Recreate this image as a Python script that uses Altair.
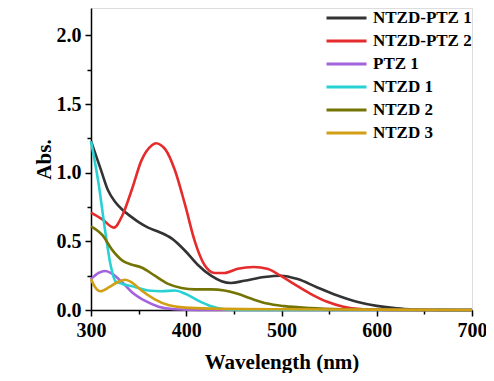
import altair as alt
import pandas as pd

series_names = ["NTZD-PTZ 1", "NTZD-PTZ 2", "PTZ 1", "NTZD 1", "NTZD 2", "NTZD 3"]
series_colors = ["#333333", "#e52b2b", "#a363dc", "#28d2d4", "#747405", "#d19e14"]

wl_ntzd_ptz1 = [300, 310, 318, 325, 333, 342, 350, 360, 371, 385, 399, 412, 426, 437, 447, 461, 482, 499, 517, 537, 558, 579, 600, 621, 635, 669, 700]
ab_ntzd_ptz1 = [1.23, 1.03, 0.87, 0.79, 0.73, 0.68, 0.64, 0.60, 0.57, 0.52, 0.43, 0.33, 0.25, 0.21, 0.197, 0.213, 0.24, 0.25, 0.225, 0.166, 0.107, 0.06, 0.03, 0.012, 0.005, 0.001, 0.0]

wl_ntzd_ptz2 = [300, 312, 324, 333, 343, 353, 364, 368, 378, 388, 399, 409, 419, 430, 440, 454, 471, 485, 499, 513, 530, 548, 565, 583, 600, 620, 700]
ab_ntzd_ptz2 = [0.71, 0.66, 0.60, 0.69, 0.88, 1.09, 1.20, 1.215, 1.17, 1.02, 0.76, 0.50, 0.33, 0.27, 0.27, 0.30, 0.313, 0.30, 0.25, 0.19, 0.12, 0.06, 0.024, 0.007, 0.003, 0.0, 0.0]

wl_ptz1 = [300, 308, 315, 322, 333, 343, 357, 371, 385, 400, 420, 700]
ab_ptz1 = [0.225, 0.27, 0.284, 0.265, 0.20, 0.13, 0.066, 0.024, 0.007, 0.002, 0.0, 0.0]

wl_ntzd1 = [300, 308, 315, 320.5, 325.7, 333, 347, 360, 374, 388, 399, 412, 426, 440, 450, 700]
ab_ntzd1 = [1.23, 0.92, 0.57, 0.33, 0.21, 0.19, 0.166, 0.142, 0.137, 0.142, 0.118, 0.07, 0.028, 0.005, 0.0, 0.0]

wl_ntzd2 = [300, 312, 322, 333, 343, 353, 367, 381, 395, 409, 426, 440, 454, 468, 485, 503, 530, 565, 600, 650, 700]
ab_ntzd2 = [0.61, 0.545, 0.44, 0.36, 0.33, 0.31, 0.25, 0.19, 0.16, 0.15, 0.15, 0.142, 0.118, 0.083, 0.047, 0.028, 0.014, 0.005, 0.002, 0.0, 0.0]

wl_ntzd3 = [300, 304, 310, 319, 327, 336, 343, 353, 367, 381, 399, 426, 500, 600, 700]
ab_ntzd3 = [0.225, 0.17, 0.137, 0.166, 0.20, 0.22, 0.20, 0.142, 0.078, 0.036, 0.017, 0.01, 0.005, 0.003, 0.0]

x_major = [300, 400, 500, 600, 700]
x_minor = [350, 450, 550, 650]
y_major = [0.0, 0.5, 1.0, 1.5, 2.0]
y_minor = [0.25, 0.75, 1.25, 1.75]

rows = []
for name, wl, ab in zip(
    series_names,
    [wl_ntzd_ptz1, wl_ntzd_ptz2, wl_ptz1, wl_ntzd1, wl_ntzd2, wl_ntzd3],
    [ab_ntzd_ptz1, ab_ntzd_ptz2, ab_ptz1, ab_ntzd1, ab_ntzd2, ab_ntzd3],
):
    for w, a in zip(wl, ab):
        rows.append({"series": name, "order": series_names.index(name), "wl": w, "abs": a})
df = pd.DataFrame(rows)

FONT = "Liberation Serif"
xscale = alt.Scale(domain=[300, 700], nice=False, zero=False)
yscale = alt.Scale(domain=[0, 2.2], nice=False)

base = alt.Chart(df)

lines = base.mark_line(strokeWidth=2.6, interpolate="monotone").encode(
    x=alt.X("wl:Q", scale=xscale,
            axis=alt.Axis(values=x_major, title="Wavelength (nm)", tickSize=6, tickWidth=1.5,
                          domainWidth=1.5, domainColor="black", tickColor="black",
                          labelFont=FONT, labelFontSize=20, labelFontWeight="bold", labelColor="black",
                          labelPadding=4, titleFont=FONT, titleFontSize=21, titleFontWeight="bold",
                          titleColor="black", titlePadding=11, grid=False, labelFlush=False)),
    y=alt.Y("abs:Q", scale=yscale,
            axis=alt.Axis(values=y_major, title="Abs.", format=".1f", tickSize=6, tickWidth=1.5,
                          domainWidth=1.5, domainColor="black", tickColor="black",
                          labelFont=FONT, labelFontSize=20, labelFontWeight="bold", labelColor="black",
                          labelPadding=4, titleFont=FONT, titleFontSize=21, titleFontWeight="bold",
                          titleColor="black", titlePadding=2, grid=False, labelFlush=False)),
    color=alt.Color("series:N", sort=series_names,
                    scale=alt.Scale(domain=series_names, range=series_colors),
                    legend=alt.Legend(title=None, orient="none", legendX=234, legendY=0,
                                      symbolType="stroke", symbolSize=1600, symbolStrokeWidth=3,
                                      labelFont=FONT, labelFontSize=17, labelFontWeight="bold",
                                      labelColor="black", clipHeight=20, rowPadding=3,
                                      labelOffset=5)),
    order=alt.Order("order:Q"),
    detail="series:N",
)

minor = base.mark_line(strokeOpacity=0).encode(
    x=alt.X("wl:Q", scale=xscale,
            axis=alt.Axis(values=x_minor, orient="bottom", labels=False, title=None, tickSize=4,
                          tickWidth=1.5, tickColor="black", domain=False, grid=False)),
    y=alt.Y("abs:Q", scale=yscale,
            axis=alt.Axis(values=y_minor, orient="left", labels=False, title=None, tickSize=4,
                          tickWidth=1.5, tickColor="black", domain=False, grid=False)),
    detail="series:N",
)

chart = alt.layer(lines, minor).resolve_axis(x="independent", y="independent").properties(
    width=381, height=302,
    autosize=alt.AutoSizeParams(type="none"),
    padding={"left": 83, "top": 0, "right": 14, "bottom": 63},
).configure_view(stroke="black", strokeWidth=1.5).configure(background="white")

chart.save("out.html", embed_options={"renderer": "svg", "actions": False})
